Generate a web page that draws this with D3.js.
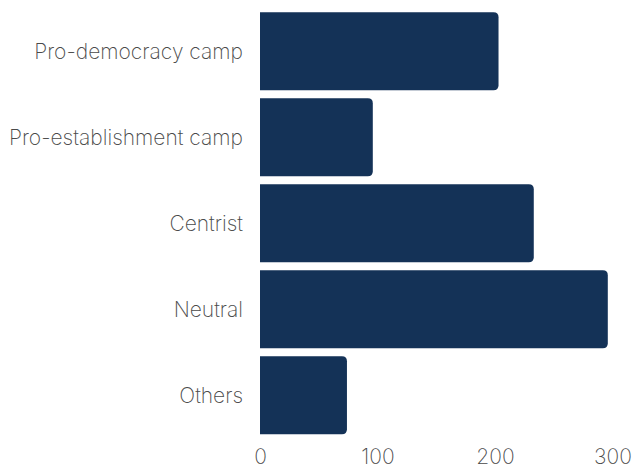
<!DOCTYPE html>
<html><head><meta charset="utf-8">
<script src="https://cdn.jsdelivr.net/npm/d3@7"></script>
<style>
body{margin:0;background:#fff;}
text{font-family:Inter,"Noto Sans",sans-serif;font-weight:250;fill:#4a4a4a;}
</style></head>
<body><svg id="c" width="633" height="468"></svg>
<script>
const categories = ["Pro-democracy camp","Pro-establishment camp","Centrist","Neutral","Others"];
const values = [203, 96, 233, 296, 74];
const tickValues = [0, 100, 200, 300];

const svg = d3.select("#c");
const x = d3.scaleLinear().domain([0, 300]).range([260, 612.5]);
const y = d3.scaleBand().domain(categories).range([8.3, 438.3]).paddingInner(8/86).paddingOuter(4/86);

const r = 5;
svg.selectAll("path.bar").data(categories).enter().append("path")
  .attr("class","bar")
  .attr("fill","#143257")
  .attr("d", (d,i) => {
    const x0 = x(0), x1 = x(values[i]), y0 = y(d), h = y.bandwidth();
    return `M${x0},${y0}H${x1-r}Q${x1},${y0} ${x1},${y0+r}V${y0+h-r}Q${x1},${y0+h} ${x1-r},${y0+h}H${x0}Z`;
  });

svg.selectAll("text.cat").data(categories).enter().append("text")
  .attr("class","cat")
  .attr("x", 243)
  .attr("y", d => y(d) + y.bandwidth()/2)
  .attr("dy","0.35em")
  .attr("text-anchor","end")
  .style("font-size","21px")
  .text(d => d);

const xAxis = d3.axisBottom(x).tickValues(tickValues).tickSize(0).tickPadding(0);
const g = svg.append("g").attr("transform","translate(0,449)").call(xAxis);
g.select(".domain").remove();
g.selectAll("text").attr("dy","0.71em").style("font-size","21px").style("font-family","Inter, 'Noto Sans', sans-serif").style("font-weight","250").attr("fill","#4a4a4a");
</script></body></html>
